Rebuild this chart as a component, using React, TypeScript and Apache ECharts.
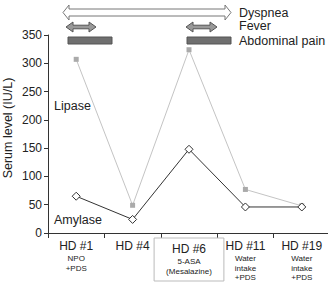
import React, { useEffect, useRef } from "react";
import * as echarts from "echarts";

const categories = ["HD #1", "HD #4", "HD #6", "HD #11", "HD #19"];
const subLabels = ["NPO\n+PDS", "", "5-ASA\n(Mesalazine)", "Water\nintake\n+PDS", "Water\nintake\n+PDS"];
const lipase = [307, 49, 324, 77, 48];
const amylase = [65, 24, 148, 46, 46];
const yTitle = "Serum level (IU/L)";

function arrow(x1: number, x2: number, cy: number, sh: number, hh: number, hl: number) {
  return [
    [x1, cy], [x1 + hl, cy - hh], [x1 + hl, cy - sh], [x2 - hl, cy - sh], [x2 - hl, cy - hh],
    [x2, cy], [x2 - hl, cy + hh], [x2 - hl, cy + sh], [x1 + hl, cy + sh], [x1 + hl, cy + hh],
  ];
}

export default function App() {
  const ref = useRef<HTMLDivElement>(null);
  useEffect(() => {
    const chart = echarts.init(ref.current!, null, { renderer: "svg" });
    const font = "Liberation Sans, Arial, sans-serif";
    chart.setOption({
      animation: false,
      textStyle: { fontFamily: font },
      grid: { left: 48, top: 35, bottom: 51, width: 282, containLabel: false, outerBoundsMode: "none" },
      xAxis: {
        type: "category",
        boundaryGap: true,
        data: categories.map((c, i) => {
          const item: any = { value: c };
          if (i === 2) {
            item.textStyle = { borderColor: "#bbb", borderWidth: 1, padding: [3, 12, 5, 12] };
          }
          return item;
        }),
        axisLine: { lineStyle: { color: "#333", width: 1 } },
        axisTick: { show: true, alignWithLabel: false, length: 5, lineStyle: { color: "#333" } },
        axisLabel: {
          interval: 0,
          margin: 5,
          formatter: (v: string) => {
            const i = categories.indexOf(v);
            const sub = subLabels[i] ? "\n" + subLabels[i].split("\n").map((s) => "{b|" + s + "}").join("\n") : "";
            return "{a|" + v + "}" + sub;
          },
          rich: {
            a: { fontSize: 12, color: "#222", fontFamily: font, lineHeight: 16 },
            b: { fontSize: 8, color: "#222", fontFamily: font, lineHeight: 9.5 },
          },
        },
      },
      yAxis: {
        type: "value",
        min: 0,
        max: 350,
        interval: 50,
        axisLine: { show: true, lineStyle: { color: "#333", width: 1 } },
        axisTick: { show: true, length: 4, lineStyle: { color: "#333" } },
        axisLabel: { fontSize: 12, color: "#222", margin: 6, fontFamily: font },
        splitLine: { show: false },
      },
      series: [
        {
          name: "Lipase",
          type: "line",
          data: lipase,
          symbol: "rect",
          symbolSize: 5,
          lineStyle: { color: "#c4c4c4", width: 1 },
          itemStyle: { color: "#aaaaaa" },
          z: 2,
        },
        {
          name: "Amylase",
          type: "line",
          data: amylase,
          symbol: "diamond",
          symbolSize: 8,
          showSymbol: true,
          lineStyle: { color: "#333", width: 1 },
          itemStyle: { color: "#fff", borderColor: "#333", borderWidth: 1 },
          z: 3,
        },
      ],
      graphic: [
        {
          type: "text", x: 8, y: 128, rotation: Math.PI / 2,
          style: { text: yTitle, fontSize: 12.5, fill: "#222", fontFamily: font, align: "center", verticalAlign: "middle" },
        },
        { type: "polygon", shape: { points: arrow(63, 231, 12.5, 3.5, 7.5, 6) }, style: { fill: "#fff", stroke: "#777", lineWidth: 1 } },
        { type: "polygon", shape: { points: arrow(66, 96, 27, 1.8, 5, 7) }, style: { fill: "#999", stroke: "#555", lineWidth: 1 } },
        { type: "polygon", shape: { points: arrow(186, 217, 27, 1.8, 5, 7) }, style: { fill: "#999", stroke: "#555", lineWidth: 1 } },
        { type: "rect", shape: { x: 68, y: 37, width: 44, height: 7 }, style: { fill: "#6f6f6f", stroke: "#555", lineWidth: 1 } },
        { type: "rect", shape: { x: 187, y: 37, width: 44, height: 7 }, style: { fill: "#6f6f6f", stroke: "#555", lineWidth: 1 } },
        { type: "text", x: 239, y: 13, style: { text: "Dyspnea", fontSize: 12.5, fill: "#222", fontFamily: font, verticalAlign: "middle" } },
        { type: "text", x: 239, y: 26, style: { text: "Fever", fontSize: 12.5, fill: "#222", fontFamily: font, verticalAlign: "middle" } },
        { type: "text", x: 239, y: 41, style: { text: "Abdominal pain", fontSize: 12.5, fill: "#222", fontFamily: font, verticalAlign: "middle" } },
        { type: "text", x: 54, y: 106, style: { text: "Lipase", fontSize: 12.5, fill: "#222", fontFamily: font, verticalAlign: "middle" } },
        { type: "text", x: 54, y: 220, style: { text: "Amylase", fontSize: 12.5, fill: "#222", fontFamily: font, verticalAlign: "middle" } },
      ],
    });
    return () => chart.dispose();
  }, []);
  return <div ref={ref} style={{ position: "absolute", left: 0, top: 0, width: 328, height: 284 }} />;
}
